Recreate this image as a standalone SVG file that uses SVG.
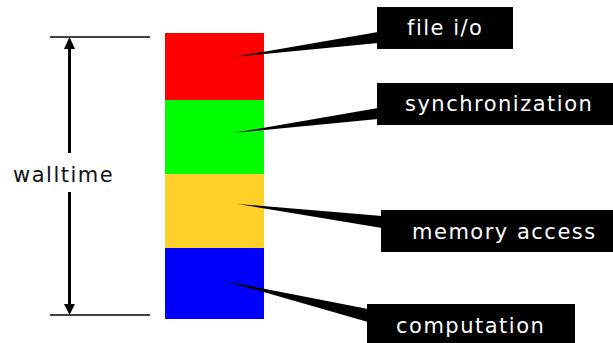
<svg xmlns="http://www.w3.org/2000/svg" width="613" height="343" viewBox="0 0 613 343">
<style>
.lbl{font-family:"DejaVu Sans",sans-serif;font-size:21px;letter-spacing:1.5px;fill:#fff}
.wt{font-family:"DejaVu Sans",sans-serif;font-size:21px;letter-spacing:1.5px;fill:#111}
.box{fill:#000}
.wedge{fill:#000}
.rule{stroke:#000;stroke-width:1.6;fill:none}
.shaft{stroke:#000;stroke-width:3;fill:none}
</style>
<rect width="613" height="343" fill="#fff"/>
<g id="bar">
<rect id="seg-fileio" x="165" y="33" width="99" height="67" fill="#FF0000"/>
<rect id="seg-sync" x="165" y="100" width="99" height="74" fill="#00FF00"/>
<rect id="seg-mem" x="165" y="174" width="99" height="74" fill="#FFCF2A"/>
<rect id="seg-comp" x="165" y="248" width="99" height="71" fill="#0000FF"/>
</g>
<g id="walltime">
<line class="rule" x1="50" y1="37" x2="150" y2="37"/>
<line class="rule" x1="50" y1="315" x2="150" y2="315"/>
<line class="shaft" x1="69.5" y1="48" x2="69.5" y2="153"/>
<line class="shaft" x1="69.5" y1="192" x2="69.5" y2="305"/>
<polygon points="69.5,37 64,49 75,49" fill="#000"/>
<polygon points="69.5,315 64,304 75,304" fill="#000"/>
<text class="wt" x="13" y="182">walltime</text>
</g>
<g id="connectors">
<polygon class="wedge" points="233,57 378,32 378,43"/>
<polygon class="wedge" points="233,133 378,108 378,119"/>
<polygon class="wedge" points="238,204 382,216 382,228"/>
<polygon class="wedge" points="225,281 368,309 368,322"/>
</g>
<g id="label-fileio">
<rect class="box" x="377" y="7" width="136" height="42"/>
<text class="lbl" x="407" y="35">file i/o</text>
</g>
<g id="label-sync">
<rect class="box" x="377" y="83" width="236" height="42"/>
<text class="lbl" x="405" y="111">synchronization</text>
</g>
<g id="label-mem">
<rect class="box" x="381" y="210" width="232" height="42"/>
<text class="lbl" x="412" y="239">memory access</text>
</g>
<g id="label-comp">
<rect class="box" x="367" y="304" width="208" height="39"/>
<text class="lbl" x="396" y="333">computation</text>
</g>
</svg>
